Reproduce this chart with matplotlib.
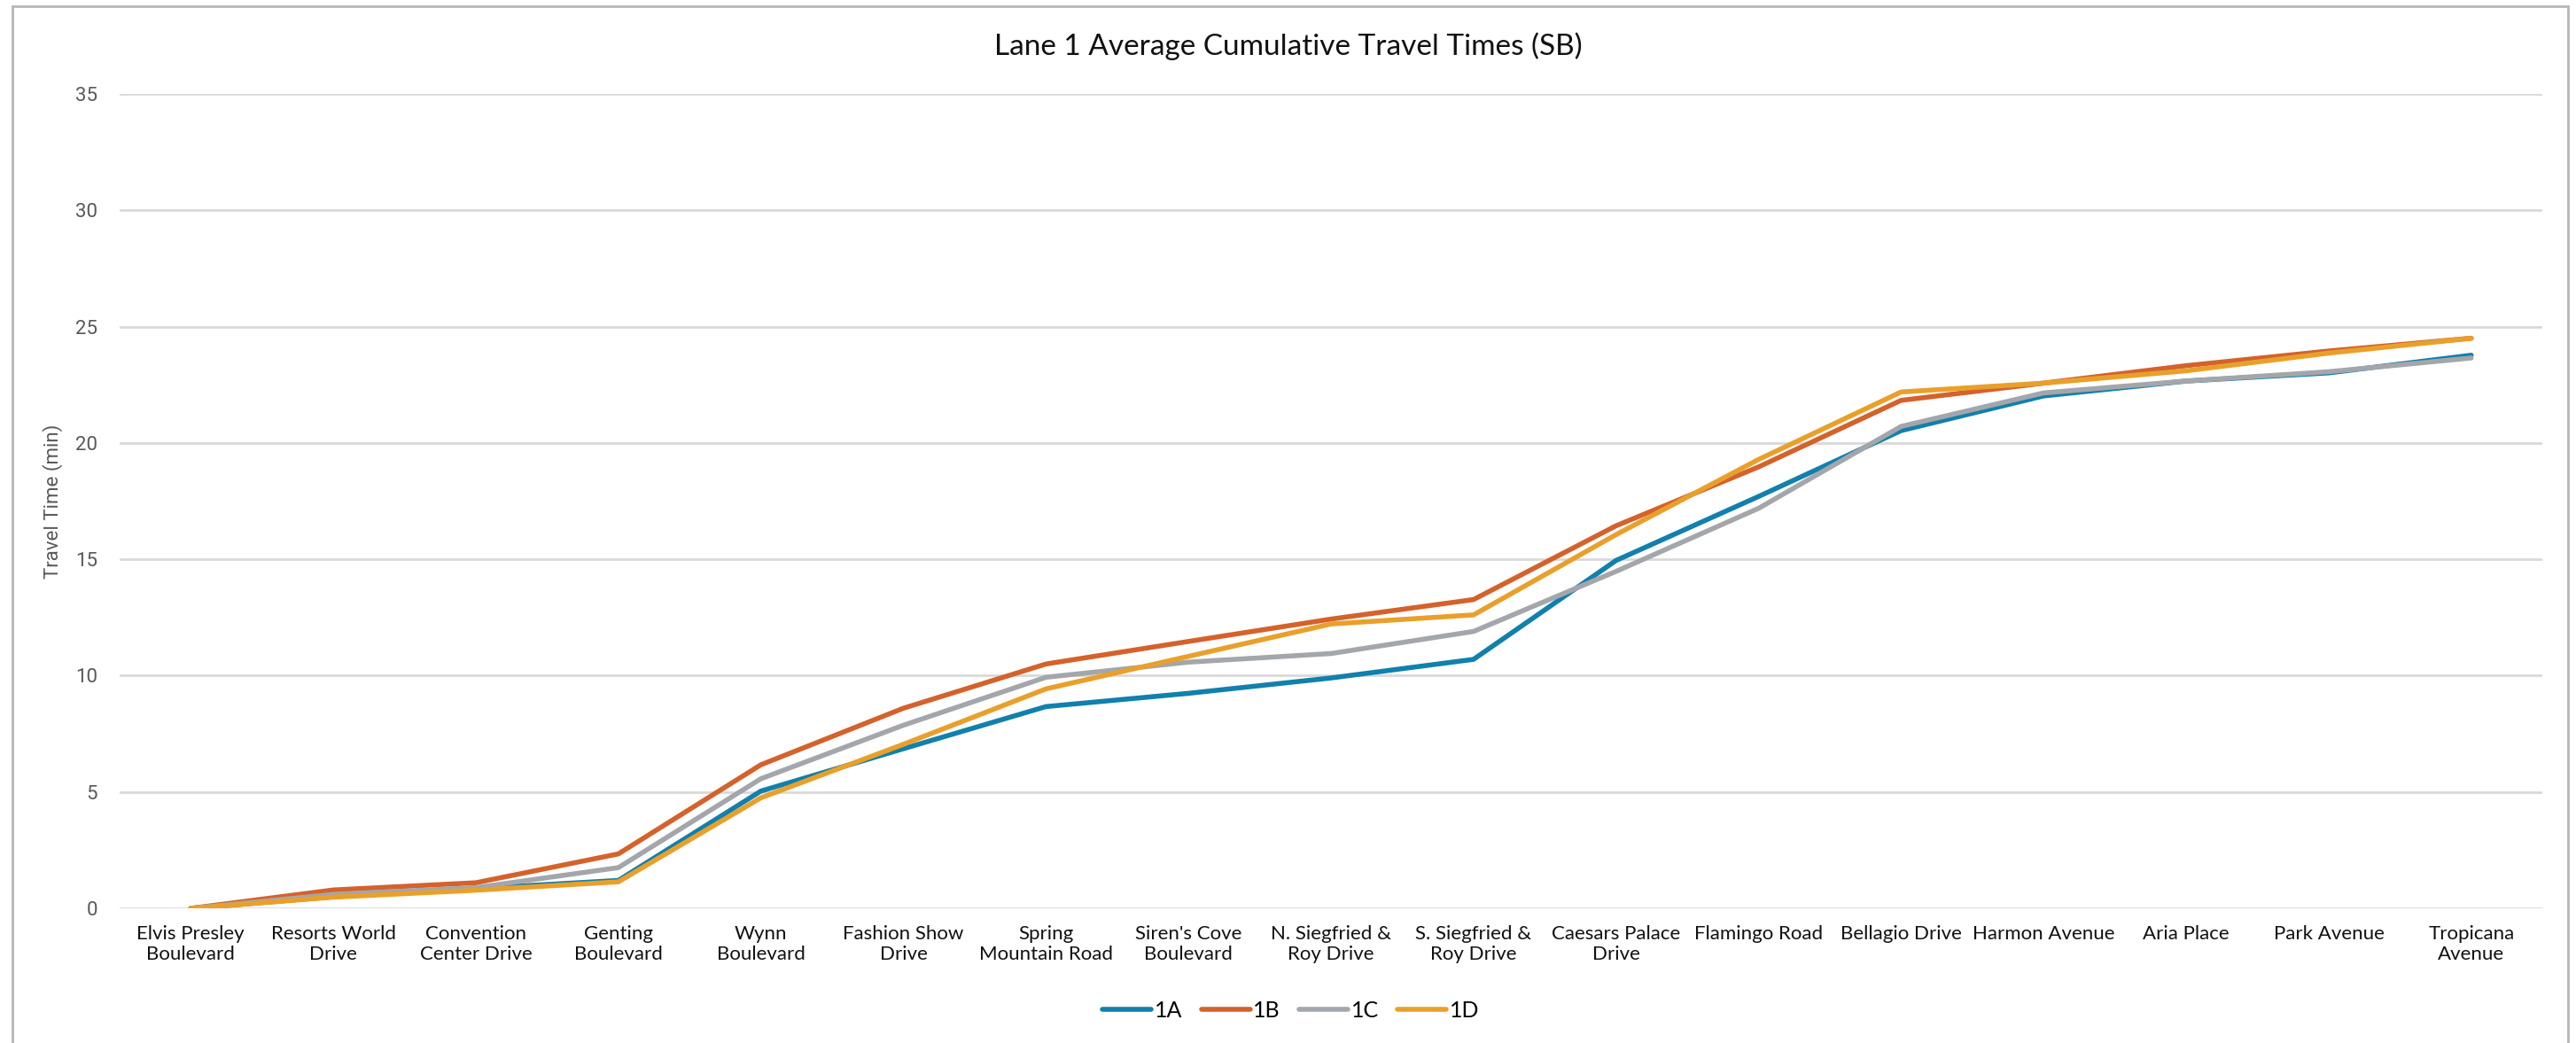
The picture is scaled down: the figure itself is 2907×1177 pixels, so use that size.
import matplotlib.pyplot as plt
from matplotlib.patches import Rectangle

stops = ["Elvis Presley\nBoulevard", "Resorts World\nDrive", "Convention\nCenter Drive",
         "Genting\nBoulevard", "Wynn\nBoulevard", "Fashion Show\nDrive", "Spring\nMountain Road",
         "Siren's Cove\nBoulevard", "N. Siegfried &\nRoy Drive", "S. Siegfried &\nRoy Drive",
         "Caesars Palace\nDrive", "Flamingo Road", "Bellagio Drive", "Harmon Avenue",
         "Aria Place", "Park Avenue", "Tropicana\nAvenue"]

lane_1a = [0, 0.50, 0.85, 1.20, 5.04, 6.86, 8.67, 9.24, 9.90, 10.70, 14.95, 17.70, 20.53, 22.02, 22.66, 23.01, 23.77]
lane_1b = [0, 0.79, 1.10, 2.34, 6.17, 8.60, 10.50, 11.47, 12.43, 13.27, 16.44, 18.97, 21.83, 22.57, 23.32, 23.95, 24.50]
lane_1c = [0, 0.60, 0.89, 1.75, 5.57, 7.87, 9.93, 10.58, 10.95, 11.90, 14.48, 17.19, 20.71, 22.15, 22.66, 23.06, 23.65]
lane_1d = [0, 0.48, 0.78, 1.14, 4.75, 7.05, 9.43, 10.83, 12.22, 12.61, 16.06, 19.29, 22.19, 22.57, 23.10, 23.86, 24.50]

series = [("1A", lane_1a, "#1180AC"), ("1B", lane_1b, "#D4622B"),
          ("1C", lane_1c, "#A3A6AA"), ("1D", lane_1d, "#E9A02B")]

label_font = ["Lato", "DejaVu Sans"]
num_font = ["Roboto", "DejaVu Sans"]

fig = plt.figure(figsize=(29.07, 11.77), dpi=100)
ax = fig.add_axes([0.0464, 0.1291, 0.9406, 0.7809])

x = list(range(len(stops)))
for name, vals, col in series:
    ax.plot(x, vals, color=col, linewidth=4, label=name, solid_capstyle="round")

ax.set_xlim(-0.5, len(stops) - 0.5)
ax.set_ylim(0, 35)
ax.set_yticks(range(0, 36, 5))
ax.set_xticks(x)
ax.set_xticklabels(stops, family=label_font, fontsize=16, color="#111111", linespacing=1.15)
for t in ax.get_yticklabels():
    t.set_family(num_font)
    t.set_fontsize(16)
    t.set_color("#595959")
ax.tick_params(length=0, pad=18)
ax.tick_params(axis="x", pad=14)
ax.grid(axis="y", color="#D9D9D9", linewidth=2)
ax.set_axisbelow(True)
for s in ax.spines.values():
    s.set_visible(False)

ax.set_ylabel("Travel Time (min)", family=num_font, fontsize=16, color="#595959", labelpad=10)
fig.text(0.5, 1 - 52 / 1177, "Lane 1 Average Cumulative Travel Times (SB)", ha="center", va="center",
         family=label_font, fontsize=24, color="#111111")

# legend centred under the plot
leg = fig.legend(loc="center", bbox_to_anchor=(1457 / 2907, 1 - 1140 / 1177), ncol=4, frameon=False,
                 prop={"family": label_font, "size": 18}, handlelength=2.2, handletextpad=0.15,
                 columnspacing=0.85)
for h in leg.get_lines():
    h.set_linewidth(4)
    h.set_solid_capstyle("round")

fig.patches.append(Rectangle((14 / 2907, -0.01), (2898 - 14) / 2907, 1.01 - 7 / 1177,
                             transform=fig.transFigure, fill=False, edgecolor="#B7B7B7", linewidth=2))

fig.savefig("out.png", dpi=100)
